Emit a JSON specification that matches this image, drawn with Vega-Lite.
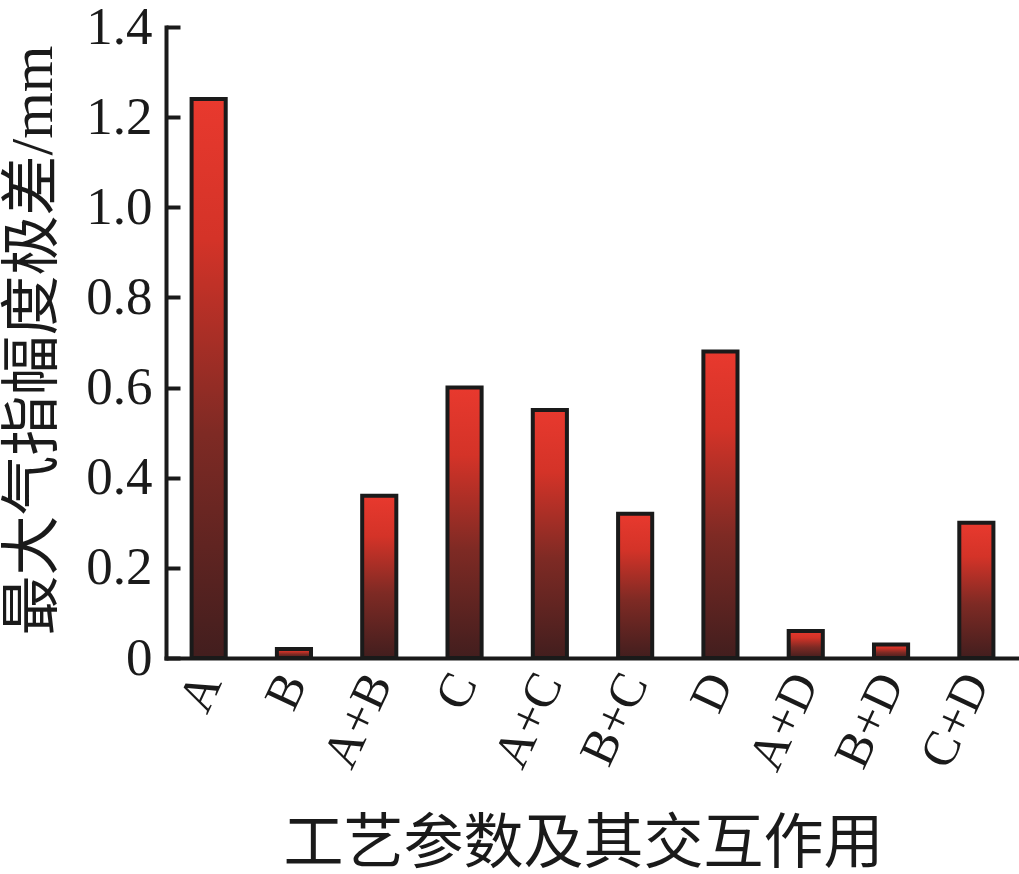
{
  "$schema": "https://vega.github.io/schema/vega-lite/v6.json",
  "autosize": "none",
  "width": 853,
  "height": 631,
  "padding": {"left": 166, "top": 27, "right": 0, "bottom": 216},
  "background": "white",
  "data": {"values": [
    {"factor": "A", "range": 1.24},
    {"factor": "B", "range": 0.02},
    {"factor": "A+B", "range": 0.36},
    {"factor": "C", "range": 0.60},
    {"factor": "A+C", "range": 0.55},
    {"factor": "B+C", "range": 0.32},
    {"factor": "D", "range": 0.68},
    {"factor": "A+D", "range": 0.06},
    {"factor": "B+D", "range": 0.03},
    {"factor": "C+D", "range": 0.30}
  ]},
  "mark": {
    "type": "bar",
    "stroke": "#1a1a1a",
    "strokeWidth": 4,
    "color": {
      "gradient": "linear",
      "x1": 0, "y1": 1, "x2": 0, "y2": 0,
      "stops": [
        {"offset": 0, "color": "#421e1e"},
        {"offset": 0.4, "color": "#7e2a24"},
        {"offset": 0.75, "color": "#d43328"},
        {"offset": 1, "color": "#e8392e"}
      ]
    }
  },
  "encoding": {
    "x": {
      "field": "factor",
      "type": "nominal",
      "sort": null,
      "scale": {"paddingInner": 0.6, "paddingOuter": 0.3},
      "axis": {
        "title": "工艺参数及其交互作用",
        "titleFont": "Liberation Serif, Noto Sans CJK SC",
        "titleFontSize": 60,
        "titleFontWeight": "normal",
        "titleColor": "#1a1a1a",
        "titleX": 417,
        "titleY": 204,
        "titleAlign": "center",
        "titleBaseline": "alphabetic",
        "labelFont": "Liberation Serif",
        "labelFontSize": 50,
        "labelColor": "#1a1a1a",
        "labelAngle": -65,
        "labelAlign": "right",
        "labelBaseline": "middle",
        "labelPadding": 18,
        "ticks": false,
        "domainColor": "#1a1a1a",
        "domainWidth": 4,
        "domainCap": "square"
      }
    },
    "y": {
      "field": "range",
      "type": "quantitative",
      "scale": {"domain": [0, 1.4], "nice": false},
      "axis": {
        "title": "最大气指幅度极差/mm",
        "titleFont": "Liberation Serif, Noto Sans CJK SC",
        "titleFontSize": 60,
        "titleFontWeight": "normal",
        "titleColor": "#1a1a1a",
        "titleAngle": -90,
        "titleX": -115,
        "titleY": 313,
        "titleAlign": "center",
        "titleBaseline": "alphabetic",
        "values": [0, 0.2, 0.4, 0.6, 0.8, 1.0, 1.2, 1.4],
        "labelExpr": "datum.value == 0 ? '0' : format(datum.value, '.1f')",
        "labelFont": "Liberation Serif",
        "labelFontSize": 53,
        "labelColor": "#1a1a1a",
        "labelPadding": 28,
        "labelBaseline": "middle",
        "grid": false,
        "tickSize": -14,
        "tickWidth": 4,
        "tickColor": "#1a1a1a",
        "domainColor": "#1a1a1a",
        "domainWidth": 4,
        "domainCap": "square"
      }
    }
  },
  "config": {"view": {"stroke": null}}
}
